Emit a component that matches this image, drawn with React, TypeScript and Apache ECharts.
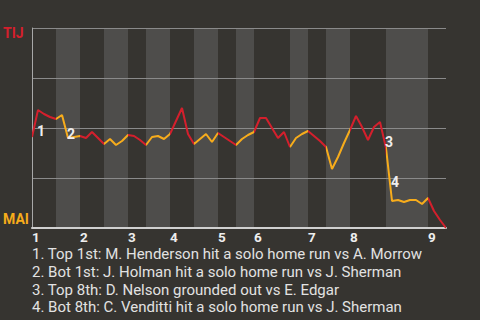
import React, { useEffect, useRef } from "react";
import * as echarts from "echarts";

// TIJ win probability (%) after each play (index 0 = first pitch)
const winProb: number[] = [
  45.5, 59, 57, 55.5, 54.5, 56.5, 45, 45.5, 46, 45,
  48, 45, 42, 44.5, 41.5, 43.5, 46.5, 46, 44, 41.5,
  45.5, 46, 44.5, 47, 53.5, 60, 47, 42, 44.5, 47,
  43, 47.5, 45.5, 43.5, 41.5, 44.5, 46.5, 48, 55, 55,
  50, 45, 48, 40.5, 45, 47, 48.5, 46, 43.5, 40.5,
  29.5, 35.5, 42.5, 49, 56, 50.5, 44, 50.5, 53, 40,
  13.5, 14, 13, 14, 14, 12, 15, 8.5, 4, 0,
];
// play index at which each half-inning starts (last = end of game)
const halfStarts: number[] = [0, 4, 8, 12, 16, 19, 23, 27, 31, 34, 37, 43, 46, 49, 53, 59, 66, 69];
const inningLabels: string[] = ["1", "2", "3", "4", "5", "6", "7", "8", "9"];
const annotationPlays: number[] = [1, 6, 59, 60];
const annotationLabels: string[] = ["1", "2", "3", "4"];
const notes: string[] = [
  "1. Top 1st: M. Henderson hit a solo home run vs A. Morrow",
  "2. Bot 1st: J. Holman hit a solo home run vs J. Sherman",
  "3. Top 8th: D. Nelson grounded out vs E. Edgar",
  "4. Bot 8th: C. Venditti hit a solo home run vs J. Sherman",
];
const awayTeam = "TIJ";
const homeTeam = "MAI";

const BG = "#363430";
const BAND_LIGHT = "#4e4d4b";
const RED = "#d41f2c";
const YELLOW = "#f7ac1b";

export default function App() {
  const ref = useRef<HTMLDivElement>(null);
  useEffect(() => {
    if (!ref.current) return;
    const chart = echarts.init(ref.current, null, { renderer: "svg" });
    const inningStarts = halfStarts.filter((_, i) => i % 2 === 0).slice(0, inningLabels.length);
    const maxX = halfStarts[halfStarts.length - 1];
    const bands = halfStarts.slice(0, -1).map((s, i) => [s, halfStarts[i + 1], i]);
    const pieces = halfStarts.slice(0, -1).map((s, i) => ({
      ...(i === 0 ? { gte: s } : { gt: s }),
      lte: halfStarts[i + 1],
      color: i % 2 === 0 ? RED : YELLOW,
    }));
    chart.setOption({
      animation: false,
      backgroundColor: BG,
      grid: { left: 32, right: 34, top: 28, height: 200 },
      xAxis: {
        type: "value",
        min: 0,
        max: maxX,
        interval: 1,
        offset: 1,
        axisLine: { show: true, lineStyle: { color: "#d0d0d0", width: 2 } },
        axisTick: { show: false },
        splitLine: { show: false },
        axisLabel: {
          margin: 2,
          align: "left",
          color: "#eeeeee",
          fontSize: 13.5,
          lineHeight: 12,
          fontWeight: "bold",
          fontFamily: "Roboto",
          showMinLabel: true,
          showMaxLabel: true,
          formatter: (v: number) => {
            const idx = inningStarts.indexOf(Math.round(v));
            return idx >= 0 ? inningLabels[idx] : "";
          },
        },
      },
      yAxis: {
        type: "value",
        min: 0,
        max: 100,
        interval: 25,
        axisLine: { show: true, lineStyle: { color: "#a8a8a8", width: 1 } },
        axisTick: { show: false },
        axisLabel: { show: false },
        splitLine: { show: true, lineStyle: { color: "#8a8a8a", width: 1 } },
      },
      visualMap: {
        show: false,
        type: "piecewise",
        dimension: 0,
        seriesIndex: 1,
        pieces,
      },
      series: [
        {
          type: "custom",
          z: -1,
          silent: true,
          encode: { x: [0, 1] },
          data: bands,
          renderItem: (_params: any, api: any) => {
            const s = api.value(0);
            const e = api.value(1);
            const half = api.value(2);
            const p0 = api.coord([s, 100]);
            const p1 = api.coord([e, 0]);
            return {
              type: "rect",
              shape: { x: p0[0], y: p0[1], width: p1[0] - p0[0], height: p1[1] - p0[1] },
              style: { fill: half % 2 === 1 ? BAND_LIGHT : BG },
            };
          },
        },
        {
          type: "line",
          showSymbol: false,
          symbol: "none",
          lineStyle: { width: 2 },
          data: winProb.map((v, k) => [k, v]),
          markPoint: {
            symbol: "circle",
            symbolSize: 1,
            itemStyle: { color: "rgba(0,0,0,0)" },
            label: {
              show: true,
              position: "inside",
              offset: [6, 7],
              formatter: "{b}",
              color: "#eeeeee",
              fontSize: 14,
              lineHeight: 12,
              fontWeight: "bold",
              fontFamily: "Roboto",
            },
            data: annotationPlays.map((k, i) => ({
              name: annotationLabels[i],
              coord: [k - 0.5, (winProb[k - 1] + winProb[k]) / 2],
            })),
          },
        },
      ],
      graphic: [
        {
          type: "text",
          x: 3,
          y: 33,
          style: {
            text: awayTeam,
            fill: RED,
            fontSize: 14,
            lineHeight: 12,
            fontWeight: "bold",
            fontFamily: "Roboto",
            verticalAlign: "middle",
          },
        },
        {
          type: "text",
          x: 3,
          y: 219,
          style: {
            text: homeTeam,
            fill: YELLOW,
            fontSize: 14,
            lineHeight: 12,
            fontWeight: "bold",
            fontFamily: "Roboto",
            verticalAlign: "middle",
          },
        },
        ...notes.map((t, i) => ({
          type: "text",
          x: 32,
          y: 254 + i * 17.8,
          style: {
            text: t,
            fill: "#e2e2e2",
            fontSize: 15,
            lineHeight: 14,
            fontFamily: "Roboto",
            verticalAlign: "middle",
          },
        })),
      ],
    });
    return () => chart.dispose();
  }, []);
  return (
    <div
      ref={ref}
      style={{ position: "fixed", left: 0, top: 0, width: 480, height: 320 }}
    />
  );
}
